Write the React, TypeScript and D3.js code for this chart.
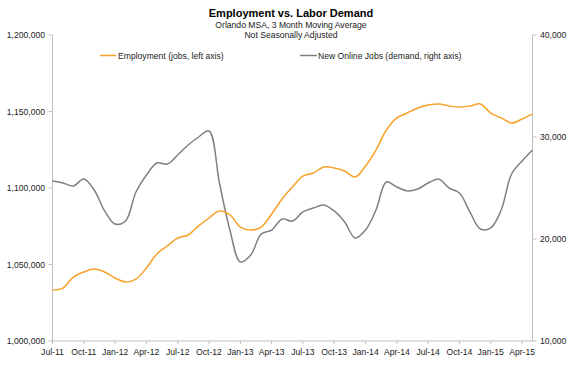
import * as d3 from 'd3'

const W = 587
const H = 384

// monthly, Jul-11 .. May-15
const employment = [
  1033300, 1034600, 1041800, 1045100, 1047100, 1045100, 1041200, 1038600, 1040500, 1047700,
  1056900, 1062100, 1067300, 1069300, 1075200, 1080400, 1085000, 1082400, 1074500, 1072500,
  1074500, 1083000, 1092800, 1100700, 1107800, 1109800, 1113700, 1113100, 1111100, 1107200,
  1114400, 1124800, 1137900, 1145800, 1149000, 1152300, 1154200, 1154900, 1153600, 1152900,
  1153600, 1154900, 1149000, 1145800, 1142500, 1145100, 1148400,
]

const onlineJobs = [
  25690, 25490, 25200, 25880, 24800, 22750, 21470, 21760, 24610, 26270,
  27450, 27350, 28240, 29220, 30000, 30590, 25490, 20880, 17750, 18430,
  20490, 20880, 21960, 21760, 22650, 23040, 23330, 22750, 21670, 20100,
  20880, 22840, 25590, 25100, 24710, 24900, 25490, 25880, 25000, 24510,
  22650, 20980, 21080, 22840, 26370, 27650, 28730,
]

const xLabels = [
  'Jul-11', 'Oct-11', 'Jan-12', 'Apr-12', 'Jul-12', 'Oct-12', 'Jan-13', 'Apr-13',
  'Jul-13', 'Oct-13', 'Jan-14', 'Apr-14', 'Jul-14', 'Oct-14', 'Jan-15', 'Apr-15',
]

const leftTicks = [1000000, 1050000, 1100000, 1150000, 1200000]
const rightTicks = [10000, 20000, 30000, 40000]

const ORANGE = '#f7a128'
const GRAY = '#808080'
const AXIS = '#bfbfbf'
const TEXT = '#222'
const FONT = '"Liberation Sans", Arial, sans-serif'

export default function App() {
  const left = 52.5
  const right = 532.5
  const top = 35
  const bottom = 341

  const x = d3.scaleLinear().domain([0, employment.length - 1]).range([left, right])
  const yL = d3.scaleLinear().domain([1000000, 1200000]).range([bottom, top])
  const yR = d3.scaleLinear().domain([10000, 40000]).range([bottom, top])

  const empLine = d3
    .line<number>()
    .x((_, i) => x(i))
    .y((v) => yL(v))
    .curve(d3.curveCatmullRom.alpha(0.5))
  const jobsLine = d3
    .line<number>()
    .x((_, i) => x(i))
    .y((v) => yR(v))
    .curve(d3.curveCatmullRom.alpha(0.5))

  const fmt = d3.format(',')

  return (
    <svg
      width={W}
      height={H}
      style={{ position: 'absolute', left: 0, top: 0, background: '#fff' }}
      fontFamily={FONT}
    >
      {/* titles */}
      <text x={291} y={17} textAnchor="middle" fontSize={11} fontWeight="bold" fill="#000">
        Employment vs. Labor Demand
      </text>
      <text x={291} y={28} textAnchor="middle" fontSize={8.6} fill={TEXT}>
        Orlando MSA, 3 Month Moving Average
      </text>
      <text x={291} y={38} textAnchor="middle" fontSize={8.6} fill={TEXT}>
        Not Seasonally Adjusted
      </text>

      {/* legend */}
      <line x1={100} x2={116} y1={55.5} y2={55.5} stroke={ORANGE} strokeWidth={1.5} />
      <text x={118} y={58.5} fontSize={8.6} fill={TEXT}>
        Employment (jobs, left axis)
      </text>
      <line x1={300} x2={317} y1={55.5} y2={55.5} stroke={GRAY} strokeWidth={1.5} />
      <text x={318} y={58.5} fontSize={8.6} fill={TEXT}>
        New Online Jobs (demand, right axis)
      </text>

      {/* axes */}
      <line x1={left} x2={left} y1={top} y2={bottom} stroke={AXIS} />
      <line x1={right} x2={right} y1={top} y2={bottom} stroke={AXIS} />
      <line x1={left} x2={right} y1={bottom} y2={bottom} stroke={AXIS} />

      {leftTicks.map((t) => (
        <g key={t}>
          <line x1={left - 4} x2={left} y1={yL(t)} y2={yL(t)} stroke={AXIS} />
          <text x={45} y={yL(t) + 3} textAnchor="end" fontSize={8.6} fill={TEXT}>
            {fmt(t)}
          </text>
        </g>
      ))}
      {rightTicks.map((t) => (
        <g key={t}>
          <line x1={right} x2={right + 4} y1={yR(t)} y2={yR(t)} stroke={AXIS} />
          <text x={540} y={yR(t) + 3} fontSize={8.6} fill={TEXT}>
            {fmt(t)}
          </text>
        </g>
      ))}
      {xLabels.map((lab, k) => (
        <g key={lab}>
          <line x1={x(k * 3)} x2={x(k * 3)} y1={bottom} y2={bottom + 3} stroke={AXIS} />
          <text x={x(k * 3)} y={355} textAnchor="middle" fontSize={8.6} fill={TEXT}>
            {lab}
          </text>
        </g>
      ))}

      {/* series */}
      <path d={jobsLine(onlineJobs) ?? ''} fill="none" stroke={GRAY} strokeWidth={1.5} />
      <path d={empLine(employment) ?? ''} fill="none" stroke={ORANGE} strokeWidth={1.5} />
    </svg>
  )
}
